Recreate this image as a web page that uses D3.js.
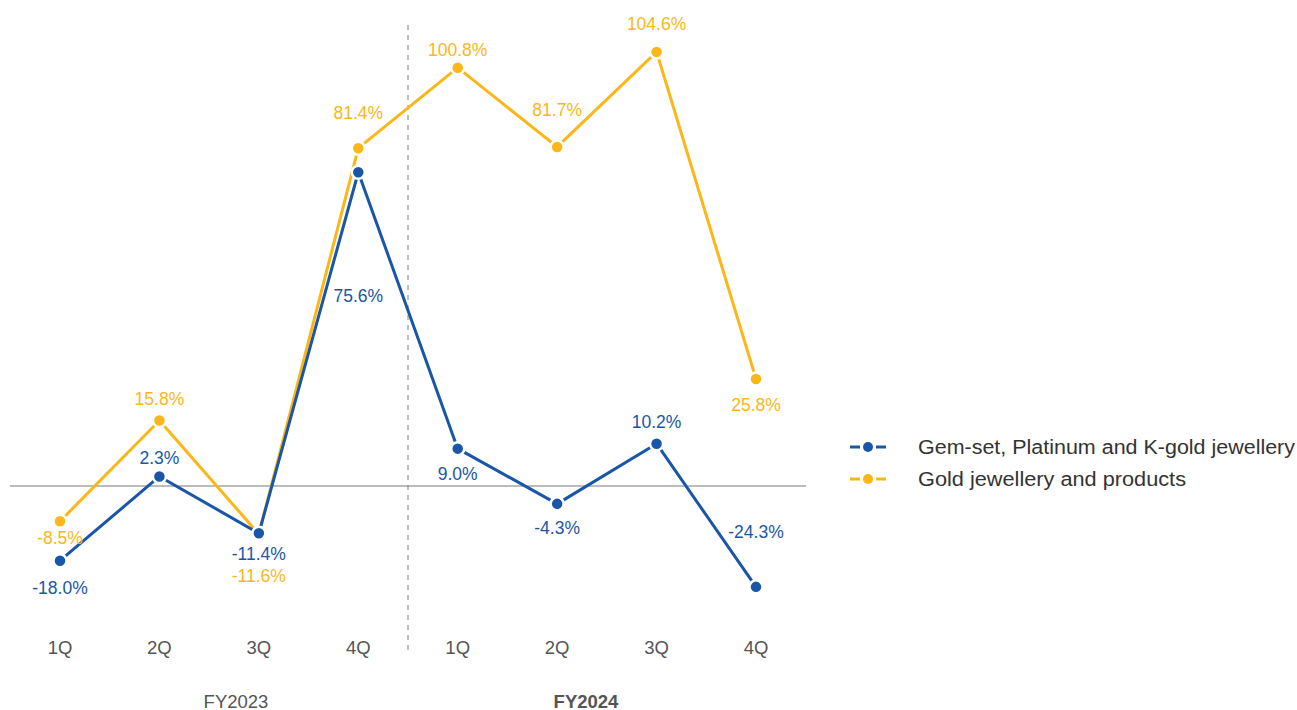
<!DOCTYPE html>
<html><head><meta charset="utf-8">
<script src="https://cdn.jsdelivr.net/npm/d3@7/dist/d3.min.js"></script>
<style>body{margin:0;background:#fff}svg{display:block}</style>
</head><body>
<svg id="c" width="1297" height="710"></svg>
<script>
const quarters = ["1Q","2Q","3Q","4Q","1Q","2Q","3Q","4Q"];
const fiscalYears = ["FY2023","FY2024"];
const gemValues = [-18.0, 2.3, -11.4, 75.6, 9.0, -4.3, 10.2, -24.3];
const goldValues = [-8.5, 15.8, -11.6, 81.4, 100.8, 81.7, 104.6, 25.8];
const seriesNames = ["Gem-set, Platinum and K-gold jewellery", "Gold jewellery and products"];

// label vertical offsets (styling)
const gemLabelDy = [27, -18, 21, 124, 25, 24, -22, -55];
const goldLabelDy = [17, -21, 42, -35, -18, -37, -28, 26];
const legendWidths = [377, 268];

const FONT = "'Liberation Sans', Arial, sans-serif";
const colors = ["#1a56a8", "#fbb718"];
const svg = d3.select("#c");
const x = d3.scalePoint().domain(d3.range(8)).range([60, 756]);
const y = d3.scaleLinear().domain([-30, 110]).range([486 + 30*4.15, 486 - 110*4.15]);

// zero line
svg.append("line").attr("x1", 10).attr("x2", 806).attr("y1", y(0)).attr("y2", y(0))
  .attr("stroke", "#7a7a7a").attr("stroke-width", 1.2);
// divider
const divX = (x(3) + x(4)) / 2;
svg.append("line").attr("x1", divX).attr("x2", divX).attr("y1", 25).attr("y2", 655)
  .attr("stroke", "#808080").attr("stroke-width", 1).attr("stroke-dasharray", "5,5");

const series = [gemValues, goldValues];
const dys = [gemLabelDy, goldLabelDy];
[1, 0].forEach(si => {
  const vals = series[si];
  const g = svg.append("g");
  g.append("path").datum(vals)
    .attr("d", d3.line().x((d, i) => x(i)).y(d => y(d)))
    .attr("fill", "none").attr("stroke", colors[si]).attr("stroke-width", 3).attr("stroke-linejoin", "round");
  g.selectAll("circle").data(vals).join("circle")
    .attr("cx", (d, i) => x(i)).attr("cy", d => y(d)).attr("r", 6.5)
    .attr("fill", colors[si]).attr("stroke", "#fff").attr("stroke-width", 2.5);
});
[0, 1].forEach(si => {
  svg.append("g").selectAll("text").data(series[si]).join("text")
    .attr("x", (d, i) => x(i)).attr("y", (d, i) => y(d) + dys[si][i])
    .attr("text-anchor", "middle").attr("dominant-baseline", "central")
    .attr("font-family", FONT).attr("font-size", 17.5)
    .attr("fill", colors[si])
    .text(d => d.toFixed(1) + "%");
});

// x axis labels
svg.append("g").selectAll("text").data(quarters).join("text")
  .attr("x", (d, i) => x(i)).attr("y", 647)
  .attr("text-anchor", "middle").attr("dominant-baseline", "central")
  .attr("font-family", FONT)
  .attr("font-size", 18.5).attr("fill", "#555")
  .text(d => d);
svg.append("g").selectAll("text").data(fiscalYears).join("text")
  .attr("x", (d, i) => divX + (i === 0 ? -172 : 178)).attr("y", 701)
  .attr("text-anchor", "middle").attr("dominant-baseline", "central")
  .attr("font-family", FONT)
  .attr("font-size", 18.5).attr("fill", "#555")
  .attr("font-weight", (d, i) => i === 1 ? "bold" : "normal")
  .text(d => d);

// legend
const lg = svg.append("g");
seriesNames.forEach((n, i) => {
  const ly = 447 + i * 32;
  lg.append("line").attr("x1", 850).attr("x2", 860).attr("y1", ly).attr("y2", ly).attr("stroke", colors[i]).attr("stroke-width", 3);
  lg.append("line").attr("x1", 876).attr("x2", 886).attr("y1", ly).attr("y2", ly).attr("stroke", colors[i]).attr("stroke-width", 3);
  lg.append("circle").attr("cx", 868).attr("cy", ly).attr("r", 5).attr("fill", colors[i]);
  lg.append("text").attr("x", 918).attr("y", ly).attr("dominant-baseline", "central")
    .attr("font-family", FONT).attr("font-size", 19.5)
    .attr("textLength", legendWidths[i]).attr("lengthAdjust", "spacingAndGlyphs")
    .attr("fill", "#333").text(n);
});
</script>
</body></html>
